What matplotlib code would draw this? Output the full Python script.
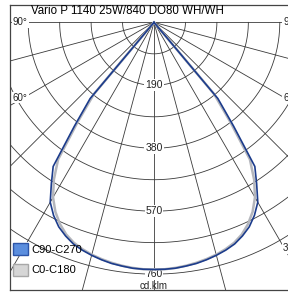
import numpy as np
import matplotlib
matplotlib.use('Agg')
import matplotlib.pyplot as plt
from matplotlib.patches import Patch

plt.rcParams['font.family'] = ['Liberation Sans', 'DejaVu Sans']

# light distribution, cd/klm, gamma 0..90 deg (mirrored left/right)
gamma = [0, 2.5, 5, 7.5, 10, 12.5, 15, 17.5, 20, 22.5, 25, 27.5, 30, 32.5,
         35, 37.5, 40, 42.5, 45, 50, 60, 70, 80, 90]
c90_c270 = [746, 746, 745, 742, 739, 734, 728, 721, 712, 698, 681, 657, 627,
            577, 531, 395, 300, 0, 0, 0, 0, 0, 0, 0]
c0_c180 = [746, 746, 744, 741, 737, 732, 726, 718, 708, 693, 672, 645, 610,
           563, 505, 378, 282, 0, 0, 0, 0, 0, 0, 0]

rings = [95, 190, 285, 380, 475, 570, 665, 760]
ring_labels = [190, 380, 570, 760]
spokes = list(range(-90, 91, 15))
angle_labels = [90, 60, 30]

title = 'Vario P 1140 25W/840 DO80 WH/WH'
unit = 'cd.klm'


def to_xy(g, i):
    """gamma (deg, signed) + intensity -> x, y with the lamp at the origin"""
    t = np.radians(g)
    i = np.asarray(i, dtype=float)
    return i * np.sin(t), -i * np.cos(t)


def full_curve(vals):
    g = np.array(gamma, dtype=float)
    v = np.array(vals, dtype=float)
    gg = np.concatenate([-g[::-1], g[1:]])
    vv = np.concatenate([v[::-1], v[1:]])
    return to_xy(gg, vv)


fig = plt.figure(figsize=(2.88, 2.92), dpi=100)
ax = fig.add_axes([10 / 288, 2 / 292, 288 / 288, 285.5 / 292])
ax.set_xlim(-435, 435)
ax.set_ylim(-808, 54)
ax.set_xticks([])
ax.set_yticks([])
for s in ax.spines.values():
    s.set_linewidth(0.9)
    s.set_color('#444444')

grid_col = '#3a3a3a'
t = np.linspace(-90, 90, 200)
for r in rings:
    x, y = to_xy(t, np.full_like(t, r))
    ax.plot(x, y, color=grid_col, lw=0.6, zorder=1)
for a in spokes:
    x, y = to_xy([a, a], [0, 1200])
    ax.plot(x, y, color=grid_col, lw=0.6, zorder=1)

for r in ring_labels:
    ax.text(0, -r, str(r), ha='center', va='center', fontsize=7.5,
            color='#222222', zorder=3,
            bbox=dict(facecolor='white', edgecolor='none', pad=0.6))

for a in angle_labels:
    d = 393
    y = -d / np.tan(np.radians(a)) if a != 90 else 0
    ax.text(-426, y, f'{a}°', ha='left', va='center', fontsize=7,
            color='#222222', zorder=3,
            bbox=dict(facecolor='white', edgecolor='none', pad=0.5))
    ax.text(390, y, f'{a}°', ha='left', va='center', fontsize=7,
            color='#222222', zorder=3,
            bbox=dict(facecolor='white', edgecolor='none', pad=0.5))

x, y = full_curve(c0_c180)
ax.plot(x, y, color='#b4b6bc', lw=1.8, zorder=4)
x, y = full_curve(c90_c270)
ax.plot(x, y, color='#1c3c8c', lw=1.2, zorder=5)

ax.text(-373, 34, title, ha='left', va='center', fontsize=8.3, color='black',
        zorder=6)
ax.text(0, -796, unit, ha='center', va='center', fontsize=7, color='#222222',
        zorder=6)

handles = [Patch(facecolor='#5b8ede', edgecolor='#2d55a8', label='C90-C270'),
           Patch(facecolor='#d6d6d6', edgecolor='#a8a8a8', label='C0-C180')]
leg = fig.legend(handles=handles, loc='lower left',
                 bbox_to_anchor=(13 / 288, 16 / 292), frameon=False,
                 fontsize=8, handlelength=1.35, handleheight=1.35,
                 handletextpad=0.3, labelspacing=0.75, borderpad=0,
                 borderaxespad=0)
leg.set_zorder(10)

fig.savefig('out.png', dpi=100)
plt.close(fig)
